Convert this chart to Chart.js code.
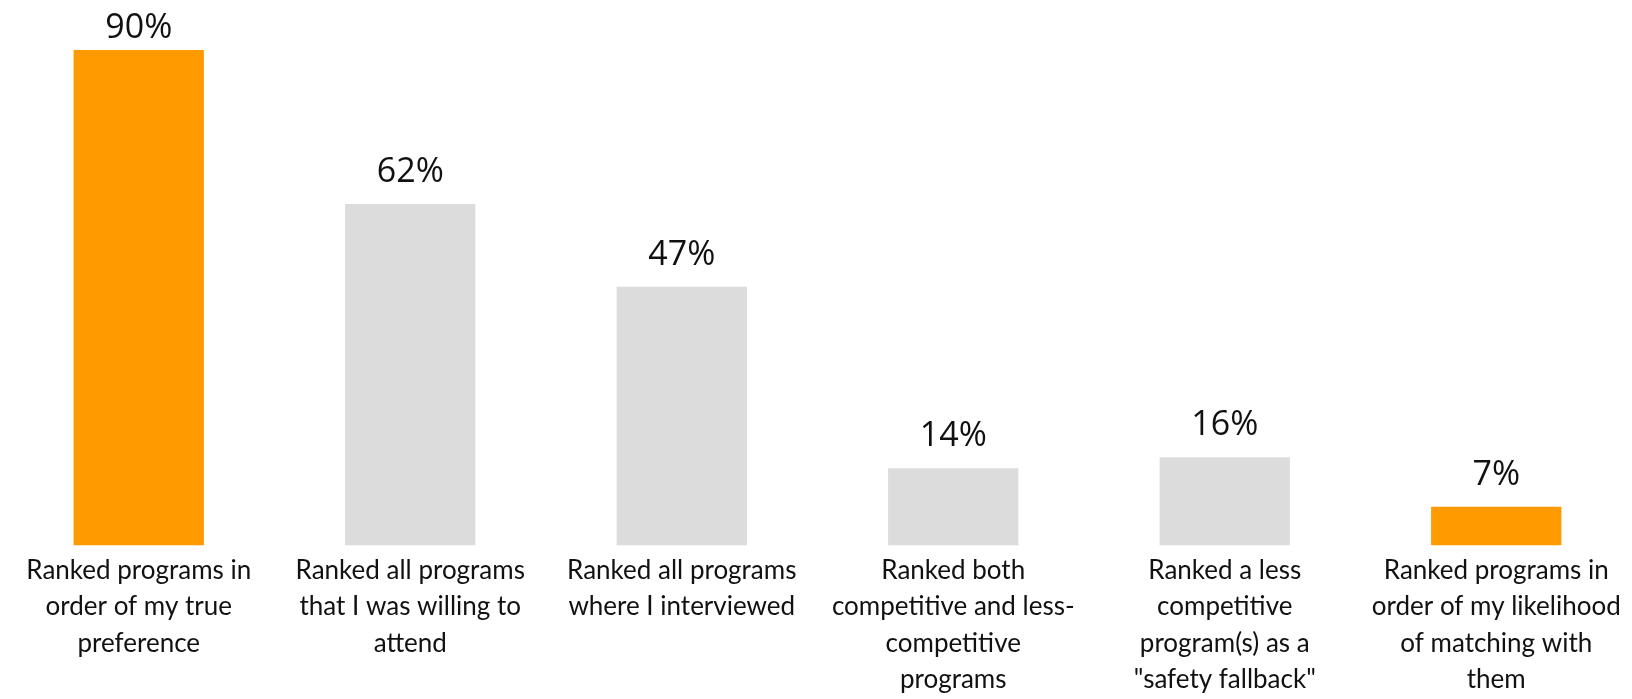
<!DOCTYPE html>
<html>
<head>
<meta charset="utf-8">
<script src="https://cdn.jsdelivr.net/npm/chart.js@4/dist/chart.umd.min.js"></script>
<style>
  html, body { margin: 0; padding: 0; background: #fff; }
  #wrap { width: 1632px; height: 699px; position: relative; }
</style>
</head>
<body>
<div id="wrap"><canvas id="rankChart"></canvas></div>
<script>
// Survey answers: how respondents built their rank list
const categories = [
  ['Ranked programs in', 'order of my true', 'preference'],
  ['Ranked all programs', 'that I was willing to', 'attend'],
  ['Ranked all programs', 'where I interviewed'],
  ['Ranked both', 'competitive and less-', 'competitive', 'programs'],
  ['Ranked a less', 'competitive', 'program(s) as a', '"safety fallback"'],
  ['Ranked programs in', 'order of my likelihood', 'of matching with', 'them'],
];
const shares = [90, 62, 47, 14, 16, 7];
const highlighted = [true, false, false, false, false, true];

const ORANGE = '#ff9a00';
const GREY = '#dcdcdc';

// Percent labels sitting above each bar
const valueLabels = {
  id: 'valueLabels',
  afterDatasetsDraw(chart) {
    const { ctx } = chart;
    const meta = chart.getDatasetMeta(0);
    ctx.save();
    ctx.font = '34px "Open Sans", sans-serif';
    ctx.fillStyle = '#111';
    ctx.textAlign = 'center';
    ctx.textBaseline = 'alphabetic';
    meta.data.forEach((bar, i) => {
      const y = Math.max(bar.y - 22, 38);
      ctx.fillText(shares[i] + '%', bar.x, y);
    });
    ctx.restore();
  },
};

new Chart(document.getElementById('rankChart'), {
  type: 'bar',
  data: {
    labels: categories,
    datasets: [{
      data: shares,
      backgroundColor: highlighted.map(h => h ? ORANGE : GREY),
      borderWidth: 0,
      barPercentage: 0.48,
      categoryPercentage: 1,
    }],
  },
  options: {
    responsive: true,
    maintainAspectRatio: false,
    animation: false,
    layout: { padding: { top: 50, left: 3, right: -6, bottom: 0 } },
    plugins: { legend: { display: false }, tooltip: { enabled: false } },
    scales: {
      x: {
        grid: { display: false, drawTicks: false },
        border: { display: false },
        afterFit(scale) { scale.height -= 6; },
        ticks: {
          color: '#111',
          padding: 7,
          maxRotation: 0,
          autoSkip: false,
          font: { family: 'Lato', size: 26, lineHeight: 1.4 },
        },
      },
      y: { display: false, min: 0, max: 90 },
    },
  },
  plugins: [valueLabels],
});
</script>
</body>
</html>
